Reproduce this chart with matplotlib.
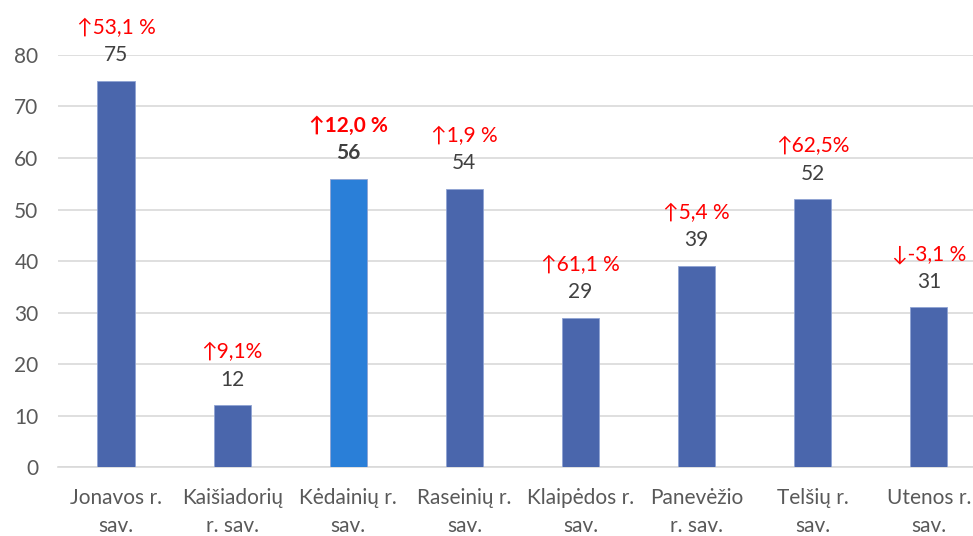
import matplotlib.pyplot as plt

regions = ["Jonavos r.\nsav.", "Kaišiadorių\nr. sav.", "Kėdainių r.\nsav.", "Raseinių r.\nsav.",
           "Klaipėdos r.\nsav.", "Panevėžio\nr. sav.", "Telšių r.\nsav.", "Utenos r.\nsav."]
counts = [75, 12, 56, 54, 29, 39, 52, 31]
changes = ["↑53,1 %", "↑9,1%", "↑12,0 %", "↑1,9 %", "↑61,1 %", "↑5,4 %", "↑62,5%", "↓-3,1 %"]
highlight = 2  # Kėdainių

plt.rcParams["font.family"] = ["Lato", "DejaVu Sans"]

fig = plt.figure(figsize=(9.73, 5.36), dpi=100)
ax = fig.add_axes([0.0596, 0.1287, 0.9404, 0.7687])

colors = ["#2A7FD8" if i == highlight else "#4A66AC" for i in range(len(counts))]
x = range(len(counts))
ax.bar(x, counts, width=0.32, color=colors, edgecolor="#8FA3D3", linewidth=0.6, zorder=3)

for i, (v, c) in enumerate(zip(counts, changes)):
    weight = "bold" if i == highlight else "normal"
    ax.annotate(str(v), (i, v), xytext=(0, 18.5), textcoords="offset points",
                ha="center", va="center", fontsize=15, color="#404040", fontweight=weight)
    ax.annotate(c, (i, v), xytext=(0, 38), textcoords="offset points",
                ha="center", va="center", fontsize=15, color="#FF0000", fontweight=weight)

ax.set_ylim(0, 80)
ax.set_xlim(-0.5, 7.38)
ax.set_yticks(range(0, 81, 10))
ax.set_xticks(list(x))
ax.set_xticklabels(regions, linespacing=1.5)
ax.tick_params(axis="y", length=0, pad=14, labelsize=15, labelcolor="#595959")
ax.tick_params(axis="x", length=0, pad=15, labelsize=15, labelcolor="#595959")
ax.grid(axis="y", color="#D9D9D9", linewidth=1.2, zorder=0)
for side in ["top", "right", "left"]:
    ax.spines[side].set_visible(False)
ax.spines["bottom"].set_color("#D9D9D9")
ax.spines["bottom"].set_linewidth(1.2)

fig.savefig("out.png", dpi=100)
